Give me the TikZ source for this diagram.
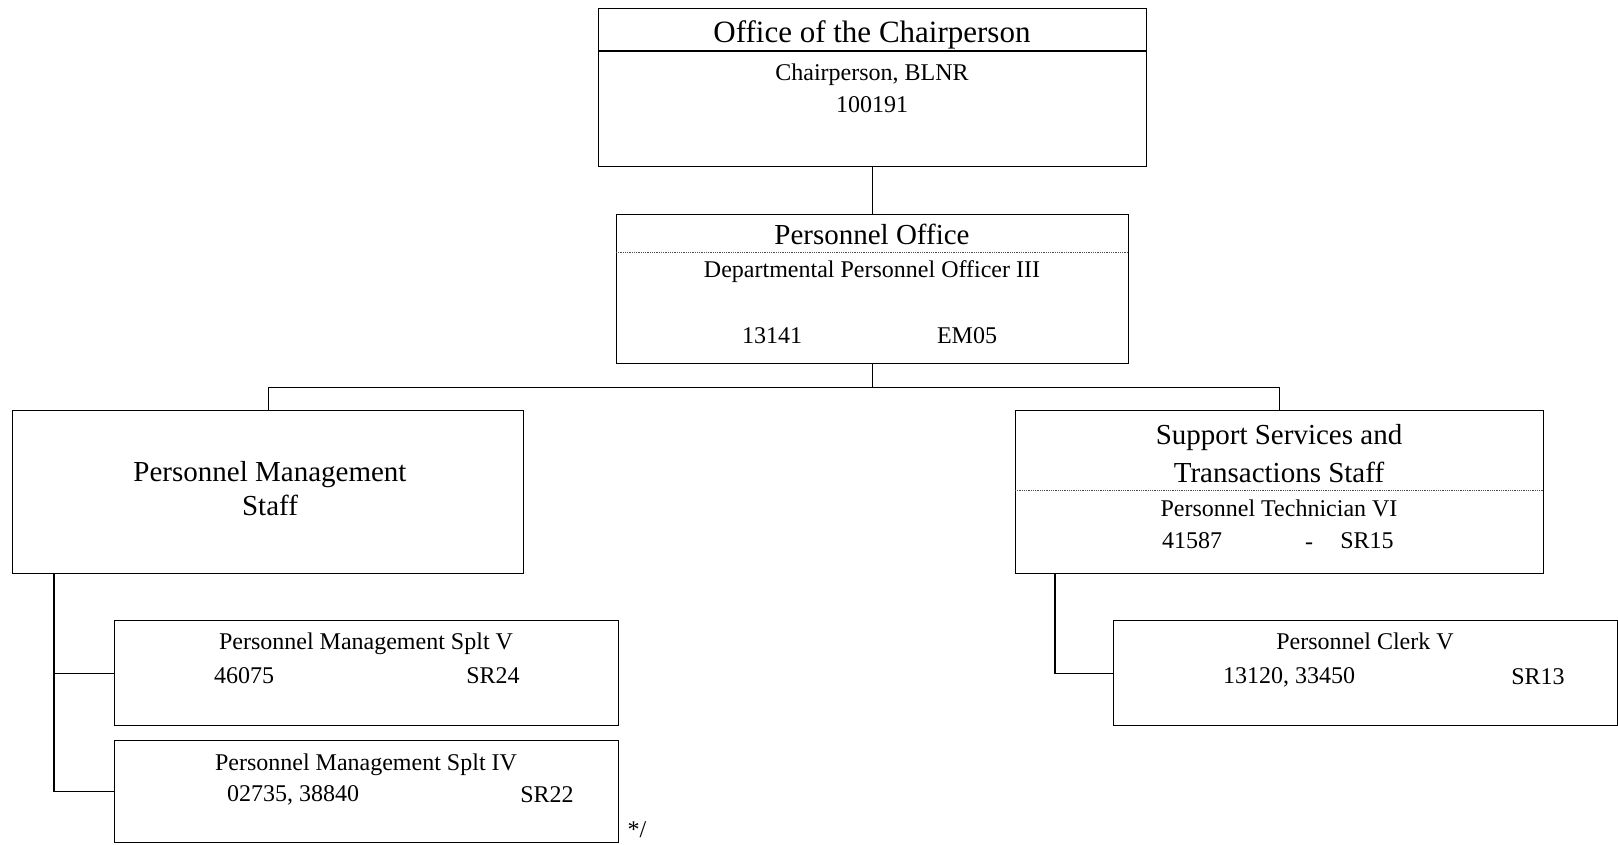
\documentclass[tikz,border=0pt]{standalone}
\usepackage{fontspec}
\setmainfont{Liberation Serif}
\usetikzlibrary{positioning}

\begin{document}
\begin{tikzpicture}[x=1pt,y=-1pt,
unit/.style={draw=black,line width=1.3pt,inner sep=0pt,anchor=north west},
head/.style={inner sep=0pt,font=\fontsize{29}{34}\selectfont},
title/.style={inner sep=0pt,font=\fontsize{31}{36}\selectfont},
label/.style={inner sep=0pt,font=\fontsize{24}{28}\selectfont},
link/.style={line width=1.2pt,draw=black},
rule/.style={line width=0.8pt,draw=black!70,densely dotted}
]
\useasboundingbox (0,0) rectangle (1618,844);
% boxes
\node[unit,minimum width=548pt,minimum height=158pt] (chair) at (598,8) {};
\node[unit,minimum width=512pt,minimum height=149pt] (po) at (616,214) {};
\node[unit,minimum width=511pt,minimum height=163pt] (pms) at (12,410) {};
\node[unit,minimum width=528pt,minimum height=163pt] (ssts) at (1015,410) {};
\node[unit,minimum width=504pt,minimum height=105pt] (pmsV) at (114,620) {};
\node[unit,minimum width=504pt,minimum height=102pt] (pmsIV) at (114,740) {};
\node[unit,minimum width=504pt,minimum height=105pt] (clerk) at (1113,620) {};
% dividers
\draw[link] (chair.north west) ++(0,43) -- ++(548,0);
\draw[rule] (po.north west) ++(0,38) -- ++(512,0);
\draw[rule] (ssts.north west) ++(0,80) -- ++(528,0);
% texts
\node[title] (chairT) at (872,35) {Office of the Chairperson};
\node[label] (chairR) at (872,75) {Chairperson, BLNR};
\node[label] (chairN) at (872,105) {100191};
\node[head] (poT) at (872,234) {Personnel Office};
\node[label] (poR) at (872,272) {Departmental Personnel Officer III};
\node[label] (poN) at (772,336) {13141};
\node[label] (poG) at (967,336) {EM05};
\node[head,align=center] (pmsT) at (270,489) {Personnel Management\\Staff};
\node[head] (sstsA) at (1279,438) {Support Services and};
\node[head] (sstsB) at (1279,472) {Transactions Staff};
\node[label] (sstsR) at (1279,508) {Personnel Technician VI};
\node[label] (sstsN) at (1192,541) {41587};
\node[label] (sstsD) at (1309,546) {-};
\node[label] (sstsG) at (1367,541) {SR15};
\node[label] (pmsVR) at (366,644) {Personnel Management Splt V};
\node[label] (pmsVN) at (244,676) {46075};
\node[label] (pmsVG) at (493,676) {SR24};
\node[label] (pmsIVR) at (366,765) {Personnel Management Splt IV};
\node[label] (pmsIVN) at (293,795) {02735, 38840};
\node[label] (pmsIVG) at (547,795) {SR22};
\node[label] (note) at (637,830) {*/};
\node[label] (clerkR) at (1365,641) {Personnel Clerk V};
\node[label] (clerkN) at (1289,677) {13120, 33450};
\node[label] (clerkG) at (1538,677) {SR13};
% connectors
\draw[link] (chair.south) -- (po.north);
\draw[link] (po.south) -- ++(0,23) -| (pms.north);
\draw[link] (po.south) -- ++(0,23) -| (ssts.north);
\draw[link] ([xshift=42pt]pms.south west) |- (pmsV.west);
\draw[link] ([xshift=42pt]pms.south west) |- (pmsIV.west);
\draw[link] ([xshift=40pt]ssts.south west) |- (clerk.west);
\end{tikzpicture}
\end{document}
